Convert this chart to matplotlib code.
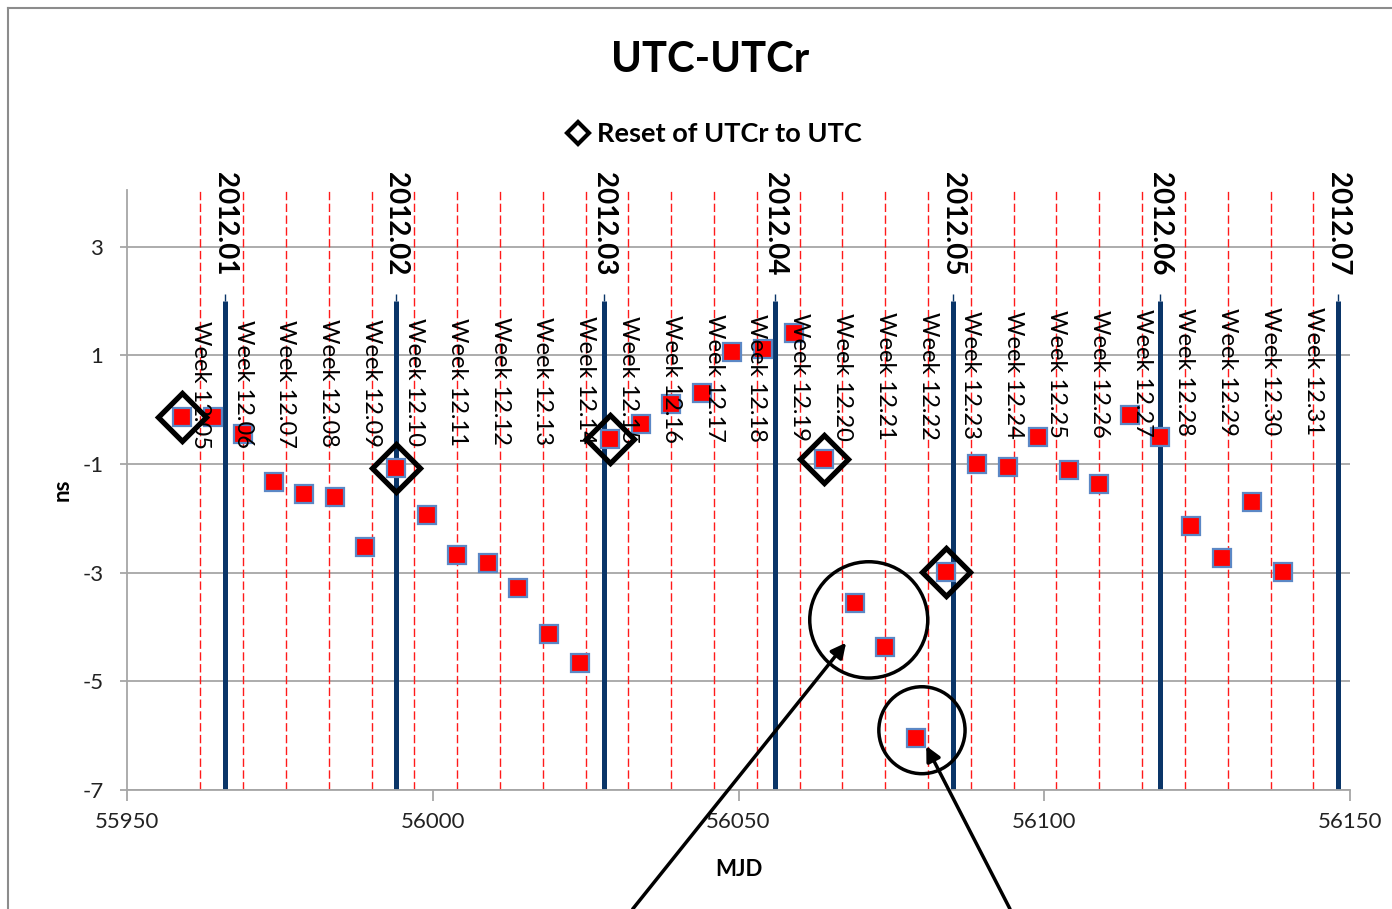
import matplotlib
matplotlib.use("Agg")
import matplotlib.pyplot as plt
from matplotlib.lines import Line2D
from matplotlib.patches import Ellipse

plt.rcParams['font.family'] = ['Lato', 'DejaVu Sans']
plt.rcParams['axes.unicode_minus'] = False

# ==========================
# Data
# ==========================
mjd = [55959, 55964, 55969, 55974, 55979, 55984, 55989, 55994, 55999, 56004,
       56009, 56014, 56019, 56024, 56029, 56034, 56039, 56044, 56049, 56054,
       56059, 56064, 56069, 56074, 56079, 56084, 56089, 56094, 56099, 56104,
       56109, 56114, 56119, 56124, 56129, 56134, 56139]
utc_utcr = [-0.14, -0.13, -0.45, -1.33, -1.55, -1.61, -2.53, -1.07, -1.94, -2.67,
            -2.82, -3.29, -4.13, -4.66, -0.55, -0.27, 0.11, 0.31, 1.06, 1.11,
            1.41, -0.91, -3.56, -4.37, -6.05, -2.99, -1.00, -1.06, -0.50, -1.11,
            -1.37, -0.10, -0.50, -2.14, -2.74, -1.70, -2.98]

reset_mjd = [55959, 55994, 56029, 56064, 56084]
reset_val = [-0.14, -1.07, -0.55, -0.91, -2.99]

month_mjd = [55966, 55994, 56028, 56056, 56085, 56119, 56148]
month_labels = ["2012.01", "2012.02", "2012.03", "2012.04", "2012.05", "2012.06", "2012.07"]

week_mjd = [55962, 55969, 55976, 55983, 55990, 55997, 56004, 56011, 56018, 56025,
            56032, 56039, 56046, 56053, 56060, 56067, 56074, 56081, 56088, 56095,
            56102, 56109, 56116, 56123, 56130, 56137, 56144, 56151]
week_labels = ["Week 12.05", "Week 12.06", "Week 12.07", "Week 12.08", "Week 12.09",
               "Week 12.10", "Week 12.11", "Week 12.12", "Week 12.13", "Week 12.14",
               "Week 12.15", "Week 12.16", "Week 12.17", "Week 12.18", "Week 12.19",
               "Week 12.20", "Week 12.21", "Week 12.22", "Week 12.23", "Week 12.24",
               "Week 12.25", "Week 12.26", "Week 12.27", "Week 12.28", "Week 12.29",
               "Week 12.30", "Week 12.31"]

# ==========================
# Figure
# ==========================
W, H = 1392, 909
fig = plt.figure(figsize=(W / 100, H / 100), dpi=100)
ax = fig.add_axes([127 / W, 1 - 790 / H, (1350 - 127) / W, (790 - 190) / H])

navy = '#0a3568'
grid_c = '#a6a6a6'

ax.set_xlim(55950, 56150)
ax.set_ylim(-7, 4.04)
ax.set_yticks([-7, -5, -3, -1, 1, 3])
ax.set_xticks([55950, 56000, 56050, 56100, 56150])
ax.yaxis.grid(True, color=grid_c, lw=1.3, zorder=0)
ax.set_axisbelow(True)
for s in ['top', 'right']:
    ax.spines[s].set_visible(False)
for s in ['left', 'bottom']:
    ax.spines[s].set_color(grid_c)
    ax.spines[s].set_linewidth(1.3)
ax.tick_params(axis='y', colors=grid_c, length=5, width=1.3, labelsize=16, pad=12,
               labelcolor='#222222')
ax.tick_params(axis='x', colors=grid_c, length=8, width=1.3, labelsize=16, pad=8,
               labelcolor='#222222')

# week lines (red dashed)
for x in week_mjd:
    ax.axvline(x, color='#ff1a1a', lw=1.0, dashes=(6, 2.5), zorder=1)

# month lines (navy bars)
ax.vlines(month_mjd, -7, 2.0, color=navy, lw=3.6, zorder=2)
ax.vlines(month_mjd, 2.0, 2.13, color=navy, lw=1.0, zorder=2)

for x, lab in zip(month_mjd, month_labels):
    ax.text(x, 4.37, lab, rotation=270, ha='center', va='top', fontsize=20,
            fontweight='bold', clip_on=False, zorder=5)

for i, (x, lab) in enumerate(zip(week_mjd, week_labels)):
    ytop = 1.63 + 0.26 * i / (len(week_labels) - 1)
    ax.text(x, ytop, lab, rotation=270, ha='center', va='top', fontsize=17,
            zorder=6)

# data
ax.plot(mjd, utc_utcr, ls='none', marker='s', ms=13, mfc='#ff0000',
        mec='#5b87c5', mew=1.6, zorder=4)
ax.plot(reset_mjd, reset_val, ls='none', marker='D', ms=24, mfc='none',
        mec='black', mew=3.8, zorder=5)

# labels
fig.text(710 / W, 1 - 60 / H, "UTC-UTCr", ha='center', va='center',
         fontsize=30, fontweight='bold')
ax.set_xlabel("MJD", fontsize=16, fontweight='bold', labelpad=19)
ax.set_ylabel("ns", fontsize=16, fontweight='bold', labelpad=7)

h = Line2D([], [], ls='none', marker='D', ms=11, mfc='none', mec='black', mew=3)
fig.legend(handles=[h], labels=["Reset of UTCr to UTC"], loc='center',
           bbox_to_anchor=(714 / W, 1 - 134 / H), frameon=False,
           prop={'size': 19.5, 'weight': 'bold'}, handlelength=0.8,
           handletextpad=0.3)

# annotations: circles and arrows
ax.add_patch(Ellipse((56071.3, -3.87), 19.3, 2.14, fill=False, ec='black', lw=2.5,
                     zorder=7))
ax.add_patch(Ellipse((56080.0, -5.90), 14.1, 1.60, fill=False, ec='black', lw=2.5,
                     zorder=7))
ax.annotate("", xy=(56067.6, -4.29), xytext=(56032.7, -9.19),
            arrowprops=dict(arrowstyle='-|>', color='black', lw=2.5,
                            mutation_scale=22, shrinkA=0, shrinkB=0),
            annotation_clip=False, zorder=7)
ax.annotate("", xy=(56080.7, -6.19), xytext=(56094.4, -9.19),
            arrowprops=dict(arrowstyle='-|>', color='black', lw=2.5,
                            mutation_scale=22, shrinkA=0, shrinkB=0),
            annotation_clip=False, zorder=7)

# chart area border
fig.add_artist(Line2D([8 / W, 1], [1 - 8 / H, 1 - 8 / H], color='#8c8c8c', lw=1.5))
fig.add_artist(Line2D([8 / W, 8 / W], [0, 1 - 8 / H], color='#8c8c8c', lw=1.5))

fig.savefig("out.png", dpi=100)
